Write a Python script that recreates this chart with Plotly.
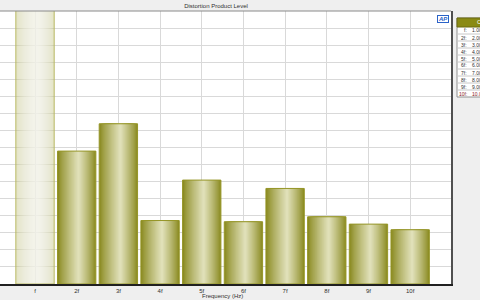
import plotly.graph_objects as go

# ---- data ----
categories = ["f", "2f", "3f", "4f", "5f", "6f", "7f", "8f", "9f", "10f"]
levels = [170.0, 77.9, 93.9, 37.2, 60.9, 36.5, 56.0, 39.4, 35.1, 31.8]
legend_labels = ["f:", "2f:", "3f:", "4f:", "5f:", "6f:", "7f:", "8f:", "9f:", "10f:"]
legend_values = ["1.000 kHz", "2.000 kHz", "3.000 kHz", "4.000 kHz", "5.000 kHz",
                 "6.000 kHz", "7.000 kHz", "8.000 kHz", "9.000 kHz", "10.00 kHz"]

# ---- styling ----
BAR_W = 0.92
HIGHLIGHT = 0.55
N = 18
dark = (138, 138, 32)
light = (228, 228, 192)


def lerp(a, b, t):
    return tuple(int(round(a[i] + (b[i] - a[i]) * t)) for i in range(3))


fig = go.Figure()
L, R = -BAR_W / 2, BAR_W / 2
p = L + HIGHLIGHT * BAR_W
for k in range(N):
    s = k / N
    lft = L + (p - L) * s
    rgt = R - (R - p) * s
    c = lerp(dark, light, s ** 0.85)
    normal = "rgb(%d,%d,%d)" % c
    if k == 0:
        fcol = "rgba(190,190,120,0.42)"
    else:
        fcol = "rgba(255,255,255,0.075)"
    colors = [fcol] + [normal] * (len(categories) - 1)
    fig.add_trace(go.Bar(
        x=categories, y=levels, offset=lft, width=rgt - lft,
        marker=dict(color=colors, line=dict(width=0)),
        hoverinfo="skip", showlegend=False))

# outline
fig.add_trace(go.Bar(
    x=categories, y=levels, offset=L, width=BAR_W,
    marker=dict(color="rgba(0,0,0,0)",
                line=dict(width=1, color=["rgb(185,185,100)"] + ["rgb(150,150,40)"] * (len(categories) - 1))),
    showlegend=False, hoverinfo="skip"))

W_PLOT = 451
fig.update_layout(
    width=480, height=300,
    margin=dict(l=0, r=29, t=11, b=16),
    barmode="overlay",
    paper_bgcolor="#efefef",
    plot_bgcolor="#ffffff",
    font=dict(family="Liberation Sans", size=6, color="#303030"),
    title=dict(text="Distortion Product Level", xref="container", yref="container",
               x=216 / 480, y=1 - 5.5 / 300, xanchor="center", yanchor="middle",
               font=dict(size=6, color="#303030")),
    xaxis=dict(type="category", range=[-0.84, 9.98], showgrid=True, gridcolor="#d9d9d9",
               gridwidth=1, showline=True, linecolor="#202020", linewidth=1.5,
               ticks="", tickfont=dict(size=6, color="#303030"), zeroline=False),
    yaxis=dict(range=[0, 160], dtick=10, showgrid=True, gridcolor="#d9d9d9", gridwidth=1,
               showticklabels=False, side="right", showline=True, linecolor="#505050",
               linewidth=1.5, zeroline=False, ticks=""),
)

shapes = []
annotations = []
# top border of plot
shapes.append(dict(type="line", xref="paper", yref="paper", x0=0, x1=1, y0=1, y1=1,
                   line=dict(color="#8a8a8a", width=1)))
# x axis title
annotations.append(dict(text="Frequency (Hz)", xref="paper", yref="paper",
                        x=222 / W_PLOT, y=-(295.5 - 284) / 273, xanchor="center", yanchor="middle",
                        showarrow=False, font=dict(size=6, color="#303030")))
# AP logo
annotations.append(dict(text="<b><i>AP</i></b>", xref="paper", yref="paper",
                        x=443 / W_PLOT, y=(284 - 19) / 273, xanchor="center", yanchor="middle",
                        showarrow=False, font=dict(size=6, color="#2a63c8"),
                        bordercolor="#2a63c8", borderwidth=1, borderpad=0))


def px(x):
    return x / W_PLOT


def py(y):
    return (284 - y) / 273


# legend table
tx0, tx1 = 457, 520
top, head_bot, row_h = 18, 27, 7.0
bottom = head_bot + row_h * len(legend_labels)
shapes.append(dict(type="rect", xref="paper", yref="paper", x0=px(tx0), x1=px(tx1),
                   y0=py(bottom), y1=py(top), fillcolor="#ffffff",
                   line=dict(color="#909090", width=1)))
shapes.append(dict(type="rect", xref="paper", yref="paper", x0=px(tx0), x1=px(tx1),
                   y0=py(head_bot), y1=py(top), fillcolor="#8a8a14",
                   line=dict(color="#6a6a10", width=1)))
annotations.append(dict(text="Ch1", xref="paper", yref="paper", x=px(475), y=py((top + head_bot) / 2),
                        xanchor="left", yanchor="middle", showarrow=False,
                        font=dict(size=6, color="#ffffff")))
for i, (lab, val) in enumerate(zip(legend_labels, legend_values)):
    y0 = head_bot + row_h * i
    y1 = y0 + row_h
    if i > 0:
        shapes.append(dict(type="line", xref="paper", yref="paper", x0=px(tx0), x1=px(tx1),
                           y0=py(y0), y1=py(y0), line=dict(color="#c8c8c8", width=1)))
    col = "#8b1a1a" if i == len(legend_labels) - 1 else "#303030"
    annotations.append(dict(text=lab, xref="paper", yref="paper", x=px(468.5), y=py((y0 + y1) / 2),
                            xanchor="right", yanchor="middle", showarrow=False,
                            font=dict(size=5, color=col)))
    annotations.append(dict(text=val, xref="paper", yref="paper", x=px(469.5), y=py((y0 + y1) / 2),
                            xanchor="left", yanchor="middle", showarrow=False,
                            font=dict(size=5, color=col)))

fig.update_layout(shapes=shapes, annotations=annotations)
fig.write_html("out.html")
